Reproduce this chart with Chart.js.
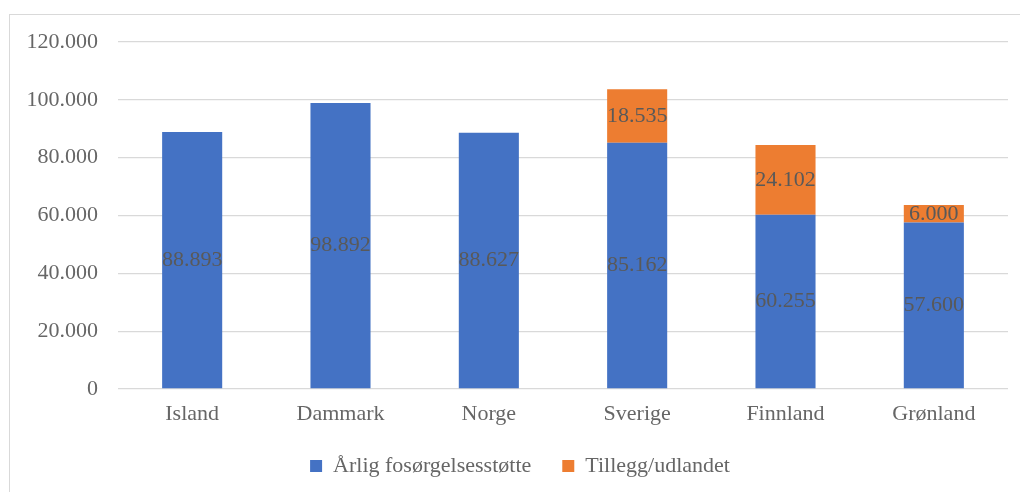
<!DOCTYPE html>
<html>
<head>
<meta charset="utf-8">
<script src="https://cdn.jsdelivr.net/npm/chart.js@4"></script>
<style>
  html, body { margin: 0; padding: 0; background: #fff; }
  #wrap { position: relative; width: 1020px; height: 492px; overflow: hidden; }
  #frame { position: absolute; left: 9px; top: 14px; width: 1040px; height: 520px; border: 1px solid #d9d9d9; box-sizing: border-box; }
  #box { position: absolute; left: 0; top: 0; width: 1020px; height: 492px; }
</style>
</head>
<body>
<div id="wrap">
  <div id="frame"></div>
  <div id="box"><canvas id="chart"></canvas></div>
</div>
<script>
// Data
const categories = ['Island', 'Dammark', 'Norge', 'Sverige', 'Finnland', 'Grønland'];
const seriesNames = ['Årlig fosørgelsesstøtte', 'Tillegg/udlandet'];
const baseValues = [88893, 98892, 88627, 85162, 60255, 57600];
const extraValues = [null, null, null, 18535, 24102, 6000];
const yTicks = [0, 20000, 40000, 60000, 80000, 100000, 120000];

const textColor = '#595959';
const axisColor = '#666666';
const serif = '"Liberation Serif", "Times New Roman", serif';

// Format with dot as thousands separator
function fmt(v) {
    return String(Math.round(v)).replace(/\B(?=(\d{3})+(?!\d))/g, '.');
}

// Draw value labels in the middle of each segment
const segmentLabels = {
    id: 'segmentLabels',
    afterDatasetsDraw(chart) {
        const ctx = chart.ctx;
        ctx.save();
        ctx.font = '22px ' + serif;
        ctx.fillStyle = textColor;
        ctx.textAlign = 'center';
        ctx.textBaseline = 'middle';
        chart.data.datasets.forEach((ds, i) => {
            const meta = chart.getDatasetMeta(i);
            meta.data.forEach((bar, j) => {
                const v = ds.data[j];
                if (v == null) return;
                ctx.fillText(fmt(v), bar.x, (bar.y + bar.base) / 2);
            });
        });
        ctx.restore();
    }
};

// Nudge the legend to where the original has it
const legendShift = {
    id: 'legendShift',
    afterLayout(chart) {
        const lg = chart.legend;
        if (!lg) return;
        lg.left += 16;
        lg.right += 16;
        lg.top -= 5;
        lg.bottom -= 5;
    }
};

new Chart(document.getElementById('chart'), {
    type: 'bar',
    data: {
        labels: categories,
        datasets: [
            {
                label: seriesNames[0],
                data: baseValues,
                backgroundColor: '#4472C4',
                borderWidth: 0
            },
            {
                label: seriesNames[1],
                data: extraValues,
                backgroundColor: '#ED7D31',
                borderWidth: 0
            }
        ]
    },
    options: {
        responsive: true,
        maintainAspectRatio: false,
        animation: false,
        categoryPercentage: 1,
        barPercentage: 0.405,
        layout: {
            padding: { left: 0, right: 12, top: 42, bottom: 0 }
        },
        plugins: {
            legend: {
                position: 'bottom',
                labels: {
                    color: axisColor,
                    font: { family: serif, size: 22 },
                    boxWidth: 12,
                    boxHeight: 12,
                    padding: 31
                }
            },
            tooltip: { enabled: false }
        },
        scales: {
            x: {
                stacked: true,
                afterFit(scale) { scale.height = 40; },
                grid: { display: false, drawTicks: false },
                border: { display: false },
                ticks: {
                    color: axisColor,
                    font: { family: serif, size: 22 },
                    padding: 12
                }
            },
            y: {
                stacked: true,
                min: 0,
                max: 120000,
                afterFit(scale) { scale.width = 118; },
                afterBuildTicks(scale) { scale.ticks = yTicks.map(v => ({ value: v })); },
                grid: {
                    color: '#d9d9d9',
                    lineWidth: 1.3,
                    drawTicks: false
                },
                border: { display: false },
                ticks: {
                    color: axisColor,
                    font: { family: serif, size: 22 },
                    padding: 20,
                    callback: v => fmt(v)
                }
            }
        }
    },
    plugins: [segmentLabels, legendShift]
});
</script>
</body>
</html>
